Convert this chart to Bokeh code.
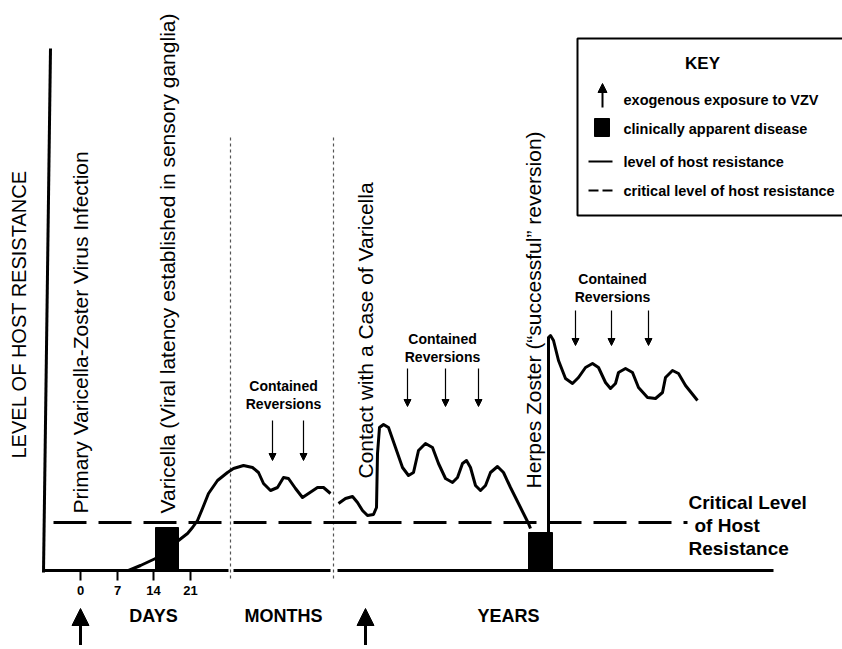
from bokeh.plotting import figure
from bokeh.models import Range1d, Arrow, NormalHead, ColumnDataSource
from bokeh.core.properties import value
from bokeh.embed import file_html
from bokeh.resources import INLINE

FONT = value("Liberation Sans")

# ---- data (x: timeline position, y: level of host resistance, baseline = 0) ----
days_x = [128, 140, 155, 178, 187, 192, 197, 202, 208, 217, 227, 230,
          233, 243, 252, 258, 263, 270, 277, 283, 288, 295, 302, 308, 317, 323, 330]
days_y = [0, 5, 12, 30, 37, 43, 50, 62, 77, 90, 98, 100,
          102, 105, 103, 98, 87, 80, 83, 93, 92, 82, 73, 77, 83, 83, 77]

years_x = [338, 345, 352, 357, 362, 367, 373, 376, 377, 379, 383, 388, 395, 402, 408,
           413, 418, 425, 432, 438, 445, 452, 457, 462, 466, 470, 475, 480, 485, 490,
           497, 503, 510, 520, 528, 530]
years_y = [67, 72, 74, 68, 60, 55, 56, 63, 117, 143, 146, 143, 123, 103, 95,
           98, 120, 127, 123, 107, 92, 88, 93, 107, 110, 103, 85, 80, 85, 98,
           104, 98, 83, 63, 47, 42]

zoster_x = [548, 548, 550, 553, 558, 565, 572, 578, 585, 592, 598, 605, 610, 615, 618,
            625, 632, 638, 647, 655, 662, 665, 672, 678, 685, 697]
zoster_y = [38, 233, 235, 230, 210, 192, 187, 193, 203, 207, 203, 188, 182, 187, 198,
            202, 198, 183, 173, 172, 178, 193, 200, 197, 185, 170]

critical_level = 48
critical_x = [53, 687]

disease_left = [155, 528]
disease_right = [178, 552]
disease_top = [43, 38]

day_ticks = [80, 117, 153, 190]
day_labels = ["0", "7", "14", "21"]

period_x = [153, 283, 508]
period_labels = ["DAYS", "MONTHS", "YEARS"]

divider_x = [230, 333]

exposure_x = [80, 365]

vert_x = [80, 167, 365, 533]
vert_y = [57, 57, 92, 82]
vert_labels = ["Primary Varicella-Zoster Virus Infection",
               "Varicella (Viral latency established in sensory ganglia)",
               "Contact with a Case of Varicella",
               "Herpes Zoster (\u201csuccessful\u201d reversion)"]

cr_label_x = [283, 442, 612]
cr_label_y = [185, 232, 292]
rev_x = [272, 303, 407, 445, 478, 575, 611, 648]
rev_top = [150, 150, 202, 202, 202, 260, 260, 260]
rev_tip = [110, 110, 164, 164, 164, 225, 225, 225]

key_labels = ["exogenous exposure to VZV", "clinically apparent disease",
              "level of host resistance", "critical level of host resistance"]
key_y = [471, 442, 409, 380]

p = figure(width=842, height=645, output_backend="svg", toolbar_location=None,
           x_range=Range1d(0, 842), y_range=Range1d(-75, 570),
           x_axis_type=None, y_axis_type=None, min_border=0,
           outline_line_color=None, background_fill_color="white")
p.grid.visible = False

K = "black"

# axes of the schematic
p.segment(x0=[50], y0=[522], x1=[43], y1=[-2], line_color=K, line_width=3)
p.segment(x0=[43, 233, 337], y0=[0, 0, 0], x1=[228, 330, 773], y1=[0, 0, 0],
          line_color=K, line_width=3)
p.segment(x0=day_ticks, y0=[0] * 4, x1=day_ticks, y1=[-10] * 4, line_color=K, line_width=2)
p.text(x=day_ticks, y=[-20] * 4, text=day_labels, text_font=FONT,
       text_font_size=value("13px"), text_font_style=value("bold"),
       text_align="center", text_baseline="middle", text_color=K)
p.text(x=period_x, y=[-45] * 3, text=period_labels, text_font=FONT,
       text_font_size=value("18px"), text_font_style=value("bold"),
       text_align="center", text_baseline="middle", text_color=K)

# dotted dividers
p.segment(x0=divider_x, y0=[433, 433], x1=divider_x, y1=[-8, -8], line_color="#555555",
          line_width=1.2, line_dash="3 3")

# critical level
p.line(x=critical_x, y=[critical_level] * 2, line_color=K, line_width=3, line_dash="33 12")

# host resistance curve
p.line(x=days_x, y=days_y, line_color=K, line_width=3, line_join="round")
p.line(x=years_x, y=years_y, line_color=K, line_width=3, line_join="round")
p.line(x=zoster_x, y=zoster_y, line_color=K, line_width=3, line_join="round")

# clinically apparent disease
p.quad(left=disease_left, right=disease_right, bottom=[0, 0], top=disease_top,
       fill_color=K, line_color=K)

# exogenous exposures
src = ColumnDataSource(dict(x=exposure_x, y0=[-75, -75], y1=[-38, -38]))
p.add_layout(Arrow(source=src, x_start="x", y_start="y0", x_end="x", y_end="y1",
                   line_width=3, line_color=K,
                   end=NormalHead(size=17, fill_color=K, line_color=K)))

# vertical annotations
p.text(x=vert_x, y=vert_y, text=vert_labels, angle=1.5707963, text_font=FONT,
       text_font_size=value("21px"), text_align="left", text_baseline="middle", text_color=K)
p.text(x=[18], y=[112], text=["LEVEL OF HOST RESISTANCE"], angle=1.5707963, text_font=FONT,
       text_font_size=value("20px"), text_align="left", text_baseline="middle", text_color=K)

# contained reversions
p.text(x=cr_label_x, y=cr_label_y, text=["Contained"] * 3, text_font=FONT,
       text_font_size=value("14px"), text_font_style=value("bold"),
       text_align="center", text_baseline="middle", text_color=K)
p.text(x=cr_label_x, y=[v - 18 for v in cr_label_y], text=["Reversions"] * 3, text_font=FONT,
       text_font_size=value("14px"), text_font_style=value("bold"),
       text_align="center", text_baseline="middle", text_color=K)
rsrc = ColumnDataSource(dict(x=rev_x, y0=rev_top, y1=rev_tip))
p.add_layout(Arrow(source=rsrc, x_start="x", y_start="y0", x_end="x", y_end="y1",
                   line_width=1.2, line_color=K,
                   end=NormalHead(size=7, fill_color=K, line_color=K)))

# critical level label
p.text(x=[688, 694, 688], y=[68, 45, 22], text=["Critical Level", "of Host", "Resistance"],
       text_font=FONT, text_font_size=value("19px"), text_font_style=value("bold"),
       text_align="left", text_baseline="middle", text_color=K)

# key
p.quad(left=[577], right=[848], bottom=[355], top=[532], fill_color=None,
       line_color=K, line_width=2)
p.text(x=[702], y=[507], text=["KEY"], text_font=FONT, text_font_size=value("17px"),
       text_font_style=value("bold"), text_align="center", text_baseline="middle", text_color=K)
ksrc = ColumnDataSource(dict(x=[602], y0=[463], y1=[487]))
p.add_layout(Arrow(source=ksrc, x_start="x", y_start="y0", x_end="x", y_end="y1",
                   line_width=2, line_color=K,
                   end=NormalHead(size=9, fill_color=K, line_color=K)))
p.quad(left=[594], right=[609], bottom=[434], top=[452], fill_color=K, line_color=K)
p.line(x=[588, 612], y=[409, 409], line_color=K, line_width=2)
p.line(x=[588, 612], y=[380, 380], line_color=K, line_width=2, line_dash="10 4")
p.text(x=[623] * 4, y=key_y, text=key_labels, text_font=FONT, text_font_size=value("14.5px"),
       text_font_style=value("bold"), text_align="left", text_baseline="middle", text_color=K)

open("out.html", "w").write(file_html(p, INLINE))
